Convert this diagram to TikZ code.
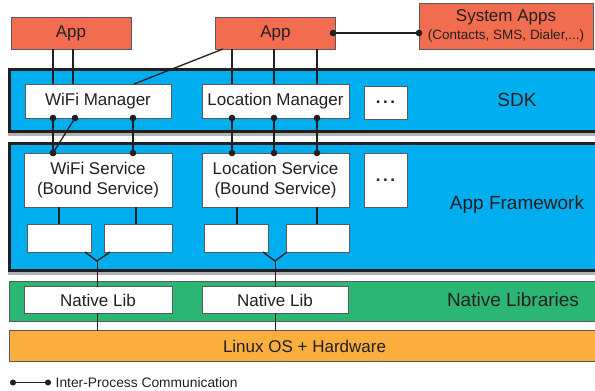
\documentclass[tikz,border=0pt]{standalone}
\usepackage{fontspec}
\setmainfont{Liberation Sans}
\usetikzlibrary{arrows.meta}
\definecolor{appred}{HTML}{F26D50}
\definecolor{sdkblue}{HTML}{00AEEF}
\definecolor{nlgreen}{HTML}{2BB673}
\definecolor{osorange}{HTML}{F9AE3D}
\definecolor{ink}{HTML}{231F20}
\definecolor{edge}{HTML}{58595B}
\begin{document}
\begin{tikzpicture}[x=1pt,y=-1pt,
  box/.style={draw=edge, line width=0.9pt, fill=white, inner sep=0pt, outer sep=0pt, text=ink, align=center, font=\fontsize{17}{20.5}\selectfont},
  appbox/.style={box, fill=appred},
  layer/.style={draw=ink, line width=3pt, fill=sdkblue, inner sep=0pt, outer sep=0pt},
  thinlayer/.style={draw=edge, line width=0.9pt, inner sep=0pt, outer sep=0pt, text=ink},
  lbl/.style={text=ink, font=\fontsize{19}{22}\selectfont},
  shadow/.style={fill=black!30},
  conn/.style={draw=ink, line width=1.3pt},
  ipc/.style={conn, {Circle[length=6.5pt]}-{Circle[length=6.5pt]}, shorten <=-3.25pt, shorten >=-3.25pt},
  dotbox/.style={box, font=\fontsize{17}{20}\selectfont\bfseries}
]
\useasboundingbox (0,0) rectangle (595,391);
\clip (0,0) rectangle (595,391);

% shadows
\fill[shadow] (8,72) rectangle (600,136);
\fill[shadow] (8,146) rectangle (600,274.5);

% layers
\node[layer, minimum width=590.5pt, minimum height=62pt] (sdk) at (304.75,100.5) {};
\node[layer, minimum width=590.5pt, minimum height=127pt] (fw) at (304.75,207) {};
\node[thinlayer, fill=nlgreen, minimum width=591pt, minimum height=40pt] (nat) at (304.5,301.5) {};
\node[thinlayer, fill=osorange, minimum width=591pt, minimum height=31pt, font=\fontsize{17}{20}\selectfont] (linux) at (304.5,346) {Linux OS + Hardware};

\node[lbl] (sdklbl) at (517,100) {SDK};
\node[lbl] (fwlbl) at (517,205) {App Framework};
\node[lbl] (natlbl) at (513,299.5) {Native Libraries};

% apps
\node[appbox, minimum width=120pt, minimum height=32pt] (app1) at (71,33) {App};
\node[appbox, minimum width=120pt, minimum height=32pt] (app2) at (275.5,33) {App};
\node[appbox, minimum width=174pt, minimum height=46pt] (sys) at (506,26)
  {System Apps\\[-3pt]{\fontsize{13.5}{15}\selectfont (Contacts, SMS, Dialer,...)}};

% SDK boxes
\node[box, minimum width=146pt, minimum height=34pt] (wifimgr) at (98,101) {WiFi Manager};
\node[box, minimum width=147pt, minimum height=34pt] (locmgr) at (275.5,101) {Location Manager};
\node[dotbox, minimum width=43pt, minimum height=33pt] (dots1) at (385.5,102.5) {.\hspace{2.5pt}.\hspace{2.5pt}.};

% framework boxes
\node[box, minimum width=148pt, minimum height=54pt] (wifisvc) at (98,180) {WiFi Service\\(Bound Service)};
\node[box, minimum width=147pt, minimum height=54pt] (locsvc) at (275.5,180) {Location Service\\(Bound Service)};
\node[dotbox, minimum width=43pt, minimum height=54pt] (dots2) at (385.5,180) {.\hspace{2.5pt}.\hspace{2.5pt}.};

\node[box, minimum width=64pt, minimum height=28pt] (sb1) at (59,238) {};
\node[box, minimum width=68pt, minimum height=28pt] (sb2) at (138,238) {};
\node[box, minimum width=64pt, minimum height=28pt] (sb3) at (236,238) {};
\node[box, minimum width=63pt, minimum height=28pt] (sb4) at (317.5,238) {};

% native libs
\node[box, minimum width=148pt, minimum height=26.5pt] (nl1) at (98,300) {Native Lib};
\node[box, minimum width=146pt, minimum height=26.5pt] (nl2) at (275,300) {Native Lib};

% app -> SDK
\draw[conn] (53,0 |- app1.south) -- (53,0 |- wifimgr.north);
\draw[conn] (73,0 |- app1.south) -- (73,0 |- wifimgr.north);
\draw[conn] (223,0 |- app2.south) -- (134,0 |- wifimgr.north);
\draw[conn] (232,0 |- app2.south) -- (232,0 |- locmgr.north);
\draw[conn] (274,0 |- app2.south) -- (274,0 |- locmgr.north);
\draw[conn] (317,0 |- app2.south) -- (317,0 |- locmgr.north);

% IPC
\draw[ipc] (333,33) -- (sys.west |- 0,33);
\draw[ipc] (53,0 |- wifimgr.south) -- (53,0 |- wifisvc.north);
\draw[ipc] (75,0 |- wifimgr.south) -- (53,0 |- wifisvc.north);
\draw[ipc] (133,0 |- wifimgr.south) -- (133,0 |- wifisvc.north);
\draw[ipc] (232,0 |- locmgr.south) -- (232,0 |- locsvc.north);
\draw[ipc] (274,0 |- locmgr.south) -- (274,0 |- locsvc.north);
\draw[ipc] (317,0 |- locmgr.south) -- (317,0 |- locsvc.north);

% service -> small boxes
\draw[conn] (59,0 |- wifisvc.south) -- (59,0 |- sb1.north);
\draw[conn] (136,0 |- wifisvc.south) -- (136,0 |- sb2.north);
\draw[conn] (237,0 |- locsvc.south) -- (237,0 |- sb3.north);
\draw[conn] (317,0 |- locsvc.south) -- (317,0 |- sb4.north);

% V joins to native libs
\coordinate (v1) at (97,261);
\coordinate (v2) at (275,261);
\draw[conn] (85,0 |- sb1.south) -- (v1) -- (110,0 |- sb2.south);
\draw[conn] (263,0 |- sb3.south) -- (v2) -- (287,0 |- sb4.south);
\draw[conn, line width=1pt] (v1) -- (97,0 |- nl1.north);
\draw[conn, line width=1pt] (v2) -- (275,0 |- nl2.north);
\draw[conn, line width=1pt] (97,0 |- nl1.south) -- (97,0 |- linux.north);
\draw[conn, line width=1pt] (275,0 |- nl2.south) -- (275,0 |- linux.north);

% legend
\coordinate (lg1) at (13,382.5);
\coordinate (lg2) at (48,382.5);
\draw[conn, line width=1pt, {Circle[length=6pt]}-{Circle[length=6pt]}, shorten <=-3pt, shorten >=-3pt] (lg1) -- (lg2);
\node[anchor=west, inner sep=0pt, text=ink, font=\fontsize{13.8}{15}\selectfont] (lgtext) at (55.5,382.5) {Inter-Process Communication};
\end{tikzpicture}
\end{document}
